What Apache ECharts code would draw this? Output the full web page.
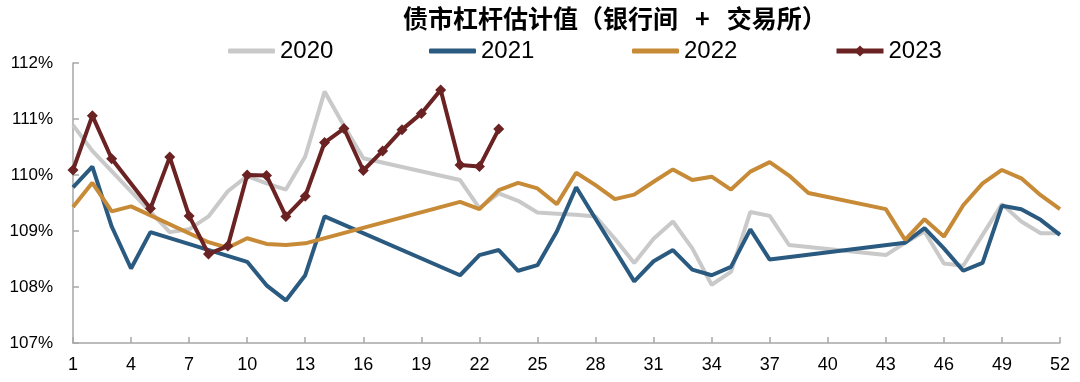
<!DOCTYPE html>
<html>
<head>
<meta charset="utf-8">
<script src="https://cdn.jsdelivr.net/npm/echarts@6/dist/echarts.min.js"></script>
<style>
html,body{margin:0;padding:0;background:#fff;}
#chart{width:1080px;height:382px;}
</style>
</head>
<body>
<div id="chart"></div>
<script>
var titleText = '债市杠杆估计值（银行间   +   交易所）';
var weeks = ['1','2','3','4','5','6','7','8','9','10','11','12','13','14','15','16','17','18','19','20',
  '21','22','23','24','25','26','27','28','29','30','31','32','33','34','35','36','37','38','39','40',
  '41','42','43','44','45','46','47','48','49','50','51','52'];
var seriesNames = ['2020','2021','2022','2023'];
var y2020 = [110.89,110.43,null,null,null,108.98,109.03,109.26,109.71,109.98,
  109.85,109.74,110.33,111.49,110.88,110.30,null,null,null,null,
  109.91,109.41,109.67,109.54,109.33,109.31,109.29,109.26,108.86,108.43,
  108.86,109.17,108.69,108.04,108.27,109.34,109.27,108.75,null,null,
  null,null,108.57,108.79,108.99,108.42,108.38,108.93,109.48,109.17,
  108.96,108.96];
var y2021 = [109.78,110.15,109.08,108.33,108.98,null,null,null,null,108.45,
  108.03,107.76,108.21,109.26,null,null,null,null,null,null,
  108.21,108.57,108.66,108.29,108.39,108.99,109.78,109.22,108.66,108.10,
  108.46,108.66,108.31,108.21,108.36,109.03,108.49,null,null,null,
  null,null,null,108.79,109.05,108.69,108.29,108.43,109.45,109.39,
  109.20,108.93];
var y2022 = [109.43,109.86,109.35,109.44,null,null,null,108.80,108.70,108.87,
  108.77,108.75,108.78,null,null,null,null,null,null,null,
  109.52,109.39,109.73,109.86,109.76,109.48,110.04,109.82,109.57,109.65,
  109.88,110.10,109.91,109.97,109.74,110.06,110.23,109.99,109.68,null,
  null,null,109.39,108.84,109.21,108.90,109.46,109.85,110.09,109.94,
  109.64,109.39];
var y2023 = [110.09,111.06,110.29,null,109.40,110.32,109.27,108.59,108.73,110.00,
  109.99,109.26,109.62,110.58,110.83,110.08,110.43,110.81,111.10,111.52,
  110.18,110.15,110.82];
var yTicks = [107,108,109,110,111,112];

var colors = ['#C9C9C9','#2A5A7F','#C78A37','#6A2222'];
var latin = "'Liberation Sans',Arial,sans-serif";

var chart = echarts.init(document.getElementById('chart'), null, {renderer:'canvas'});

function lineSeries(name, data, color, width, marker){
  return {
    name: name, type: 'line', data: data, connectNulls: true,
    lineStyle: {color: color, width: width},
    itemStyle: {color: color},
    symbol: marker ? 'diamond' : 'none',
    symbolSize: marker ? 11 : 0,
    showSymbol: !!marker,
    animation: false,
    z: marker ? 5 : 2
  };
}
var legendLefts = [223, 424, 627, 829];
var legends = seriesNames.map(function(n, i){
  var isMarker = (i === 3);
  return {
    data: [isMarker ? {name: n} : {name: n, icon: 'roundRect'}],
    left: legendLefts[i], top: 34,
    itemWidth: 47, itemHeight: isMarker ? 14 : 5, itemGap: 5,
    lineStyle: {width: 5},
    textStyle: {fontSize: 24, color: '#000', fontFamily: latin},
    selectedMode: false
  };
});

chart.setOption({
  backgroundColor: '#fff',
  animation: false,
  color: colors,
  title: {
    text: titleText, left: 398, top: 1,
    textStyle: {fontSize: 25, fontWeight: 'bold', color: '#000',
      fontFamily: "'Noto Sans CJK SC', sans-serif"}
  },
  legend: legends,
  grid: {left: 73, right: 20, top: 63, bottom: 39, containLabel: false},
  xAxis: {
    type: 'category', data: weeks, boundaryGap: false,
    axisLine: {lineStyle: {color: '#A6A6A6', width: 1.5}},
    axisTick: {inside: true, interval: 2, length: 6, lineStyle: {color: '#A6A6A6', width: 1.5}},
    axisLabel: {interval: 2, margin: 13, fontSize: 18, color: '#000', fontFamily: latin},
    splitLine: {show: false}
  },
  yAxis: {
    type: 'value', min: yTicks[0], max: yTicks[yTicks.length-1], interval: 1,
    axisLine: {show: true, lineStyle: {color: '#A6A6A6', width: 1.5}},
    axisTick: {show: true, inside: true, length: 6, lineStyle: {color: '#A6A6A6', width: 1.5}},
    axisLabel: {margin: 20, fontSize: 17, color: '#000', fontFamily: latin,
      formatter: function(v){ return v + '%'; }},
    splitLine: {show: false}
  },
  series: [
    lineSeries(seriesNames[0], y2020, colors[0], 4, false),
    lineSeries(seriesNames[1], y2021, colors[1], 4, false),
    lineSeries(seriesNames[2], y2022, colors[2], 4, false),
    lineSeries(seriesNames[3], y2023, colors[3], 4, true)
  ]
});
</script>
</body>
</html>
